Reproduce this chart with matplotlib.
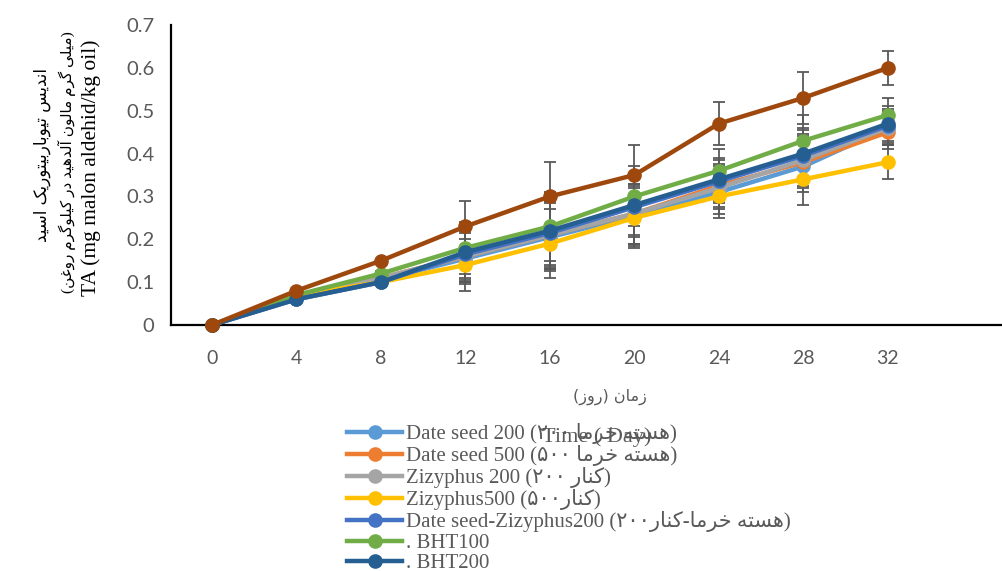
import matplotlib
matplotlib.use("Agg")
import matplotlib.pyplot as plt
from matplotlib.lines import Line2D

# ---------------- data ----------------
days = [0, 4, 8, 12, 16, 20, 24, 28, 32]
date_seed_200 = [0, 0.065, 0.105, 0.155, 0.205, 0.255, 0.31, 0.37, 0.46]
date_seed_500 = [0, 0.07, 0.11, 0.16, 0.21, 0.26, 0.325, 0.38, 0.45]
zizyphus_200 = [0, 0.065, 0.11, 0.16, 0.21, 0.26, 0.32, 0.385, 0.46]
zizyphus_500 = [0, 0.07, 0.10, 0.14, 0.19, 0.25, 0.30, 0.34, 0.38]
ds_ziz_200 = [0, 0.06, 0.10, 0.165, 0.215, 0.275, 0.335, 0.395, 0.465]
bht_100 = [0, 0.07, 0.12, 0.18, 0.23, 0.30, 0.36, 0.43, 0.49]
bht_200 = [0, 0.06, 0.10, 0.17, 0.22, 0.28, 0.34, 0.40, 0.47]
control = [0, 0.08, 0.15, 0.23, 0.30, 0.35, 0.47, 0.53, 0.60]
error = [0, 0.005, 0.005, 0.06, 0.08, 0.07, 0.05, 0.06, 0.04]

# ---------------- simple Persian shaping ----------------
FORMS = {  # isolated, final, initial, medial
    'ا': ('\uFE8D', '\uFE8E', None, None),
    'آ': ('\uFE81', '\uFE82', None, None),
    'ب': ('\uFE8F', '\uFE90', '\uFE91', '\uFE92'),
    'ت': ('\uFE95', '\uFE96', '\uFE97', '\uFE98'),
    'خ': ('\uFEA5', '\uFEA6', '\uFEA7', '\uFEA8'),
    'د': ('\uFEA9', '\uFEAA', None, None),
    'ر': ('\uFEAD', '\uFEAE', None, None),
    'ز': ('\uFEAF', '\uFEB0', None, None),
    'س': ('\uFEB1', '\uFEB2', '\uFEB3', '\uFEB4'),
    'غ': ('\uFECD', '\uFECE', '\uFECF', '\uFED0'),
    'ل': ('\uFEDD', '\uFEDE', '\uFEDF', '\uFEE0'),
    'م': ('\uFEE1', '\uFEE2', '\uFEE3', '\uFEE4'),
    'ن': ('\uFEE5', '\uFEE6', '\uFEE7', '\uFEE8'),
    'ه': ('\uFEE9', '\uFEEA', '\uFEEB', '\uFEEC'),
    'و': ('\uFEED', '\uFEEE', None, None),
    'ک': ('\uFB8E', '\uFB8F', '\uFB90', '\uFB91'),
    'گ': ('\uFB92', '\uFB93', '\uFB94', '\uFB95'),
    'ی': ('\uFBFC', '\uFBFD', '\uFBFE', '\uFBFF'),
}


def shape(s):
    out = []
    for i, ch in enumerate(s):
        if ch not in FORMS:
            out.append(ch)
            continue
        prev = s[i - 1] if i > 0 else ''
        nxt = s[i + 1] if i + 1 < len(s) else ''
        pc = prev in FORMS and FORMS[prev][2] is not None
        nc = FORMS[ch][2] is not None and nxt in FORMS
        f = FORMS[ch]
        if pc and nc:
            out.append(f[3])
        elif pc:
            out.append(f[1])
        elif nc:
            out.append(f[2])
        else:
            out.append(f[0])
    return ''.join(out)


def rtl(s):
    """logical Persian text -> visual left-to-right string"""
    v = shape(s)[::-1]
    v = v.translate(str.maketrans({'(': ')', ')': '('}))
    # re-reverse digit runs
    res, run = [], []
    for ch in v:
        if '\u06F0' <= ch <= '\u06F9' or ch.isdigit():
            run.append(ch)
        else:
            if run:
                res.extend(run[::-1]); run = []
            res.append(ch)
    if run:
        res.extend(run[::-1])
    return ''.join(res)


labels = [
    "Date seed 200 " + rtl("(هسته خرما ۲۰۰)"),
    "Date seed 500 " + rtl("(هسته خرما ۵۰۰)"),
    "Zizyphus 200 " + rtl("(کنار ۲۰۰)"),
    "Zizyphus500 " + rtl("(کنار۵۰۰)"),
    "Date seed-Zizyphus200 " + rtl("(هسته خرما-کنار۲۰۰)"),
    ". BHT100",
    ". BHT200",
]
series = [date_seed_200, date_seed_500, zizyphus_200, zizyphus_500,
          ds_ziz_200, bht_100, bht_200, control]
colors = ['#5B9BD5', '#ED7D31', '#A5A5A5', '#FFC000', '#4472C4',
          '#70AD47', '#255E91', '#9E480E']

y_title_fa1 = rtl("اندیس تیوباربیتوریک اسید")
y_title_fa2 = rtl("(میلی گرم مالون آلدهید در کیلوگرم روغن)")
y_title_en = "TA (mg malon aldehid/kg oil)"
x_title_fa = rtl("زمان (روز)")
x_title_en = "Time ( Day)"

# ---------------- figure ----------------
fig = plt.figure(figsize=(10.02, 5.71), dpi=100)
ax = fig.add_axes([171 / 1002, 1 - 325 / 571, 1 - 171 / 1002, 300 / 571])

gray = '#595959'
for i, (vals, c) in enumerate(zip(series, colors)):
    ax.errorbar(days, vals, yerr=error, fmt='none', ecolor=gray,
                elinewidth=1.3, capsize=4.5, capthick=1.3, zorder=2 + i * 0.01,
                clip_on=False)
for i, (vals, c) in enumerate(zip(series, colors)):
    ax.plot(days, vals, color=c, lw=3.2, marker='o', ms=9.5,
            zorder=3 + i * 0.01, clip_on=False)

ax.set_xlim(-1.94, 37.4)
ax.set_ylim(0, 0.7)
ax.set_xticks(days)
ax.set_yticks([0, 0.1, 0.2, 0.3, 0.4, 0.5, 0.6, 0.7])
ax.set_yticklabels(['0', '0.1', '0.2', '0.3', '0.4', '0.5', '0.6', '0.7'])
for s in ['top', 'right']:
    ax.spines[s].set_visible(False)
for s in ['left', 'bottom']:
    ax.spines[s].set_linewidth(1.6)
    ax.spines[s].set_color('black')
ax.tick_params(axis='both', length=0, colors=gray)
ax.tick_params(axis='y', pad=12)
ax.tick_params(axis='x', pad=18)
for t in ax.get_yticklabels():
    t.set_fontfamily(['Lato', 'DejaVu Sans'])
    t.set_fontsize(14.5)
for t in ax.get_xticklabels():
    t.set_fontfamily(['Liberation Sans Narrow', 'Lato', 'DejaVu Sans'])
    t.set_fontsize(14)

# axis titles
fig.text(42 / 1002, 1 - 155 / 571, y_title_fa1, rotation=90, ha='center', va='center',
         fontsize=12, family=['DejaVu Sans'], color='black')
fig.text(67 / 1002, 1 - 162 / 571, y_title_fa2, rotation=90, ha='center', va='center',
         fontsize=11, family=['Liberation Serif', 'DejaVu Sans'], color='black')
fig.text(91 / 1002, 1 - 168 / 571, y_title_en, rotation=90, ha='center', va='center',
         fontsize=15.5, family=['Liberation Serif'], color='black')
fig.text(610 / 1002, 1 - 397 / 571, x_title_fa, ha='center', va='center',
         fontsize=11.5, family=['DejaVu Sans'], color=gray)
fig.text(597 / 1002, 1 - 437 / 571, x_title_en, ha='center', va='center',
         fontsize=16, family=['Liberation Serif'], color=gray, zorder=5)

leg_handles = [Line2D([0], [0], color=c, lw=3.2, marker='o', ms=9.5) for c in colors[:7]]
leg = fig.legend(leg_handles, labels, loc='upper left',
                 bbox_to_anchor=(347 / 1002, 1 - 423 / 571), frameon=False,
                 prop={'family': ['Liberation Serif', 'DejaVu Sans'], 'size': 15},
                 labelcolor=gray, handlelength=2.65, handletextpad=0.2,
                 labelspacing=0.05, borderpad=0, borderaxespad=0)

fig.savefig('out.png', dpi=100)
